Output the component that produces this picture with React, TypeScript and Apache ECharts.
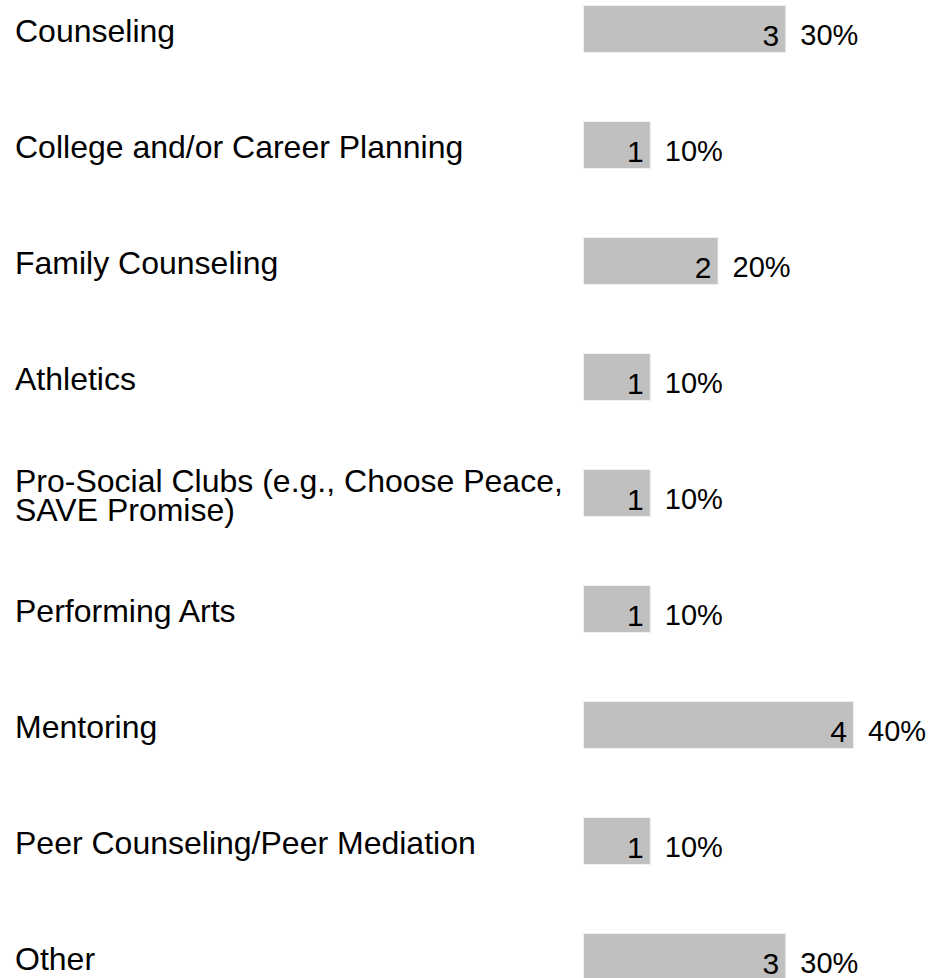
import React, { useEffect, useRef } from "react";
import * as echarts from "echarts";

const categories = [
  "Counseling",
  "College and/or Career Planning",
  "Family Counseling",
  "Athletics",
  "Pro-Social Clubs (e.g., Choose Peace,\nSAVE Promise)",
  "Performing Arts",
  "Mentoring",
  "Peer Counseling/Peer Mediation",
  "Other",
];
const counts = [3, 1, 2, 1, 1, 1, 4, 1, 3];
const percents = ["30%", "10%", "20%", "10%", "10%", "10%", "40%", "10%", "30%"];

const FONT = "'Liberation Sans', Arial, Helvetica, sans-serif";

export default function App() {
  const ref = useRef<HTMLDivElement>(null);
  useEffect(() => {
    if (!ref.current) return;
    const chart = echarts.init(ref.current, undefined, { renderer: "svg" });
    chart.setOption({
      animation: false,
      backgroundColor: "#ffffff",
      grid: { left: 583, top: 0, width: 271, height: 1044, containLabel: false },
      xAxis: {
        type: "value",
        min: 0,
        max: 4,
        show: false,
      },
      yAxis: {
        type: "category",
        data: categories,
        inverse: true,
        axisLine: { show: false },
        axisTick: { show: false },
        splitLine: { show: false },
        axisLabel: { show: false },
      },
      series: [
        {
          name: "categoryLabels",
          type: "bar",
          data: counts,
          barWidth: 48,
          silent: true,
          itemStyle: { color: "transparent" },
          label: {
            show: true,
            position: [-568, 26],
            align: "left",
            verticalAlign: "middle",
            formatter: (p: any) => categories[p.dataIndex],
            color: "#000000",
            fontFamily: FONT,
            fontSize: 32,
            lineHeight: 29,
          },
        },
        {
          name: "count",
          type: "bar",
          data: counts,
          barWidth: 48,
          barGap: "-100%",
          itemStyle: { color: "#c0c0c0", borderColor: "#efefef", borderWidth: 1 },
          label: {
            show: true,
            position: "insideRight",
            distance: 7,
            offset: [0, 6],
            formatter: "{c}",
            color: "#000000",
            fontFamily: FONT,
            fontSize: 30,
            lineHeight: 22,
          },
        },
        {
          name: "percent",
          type: "bar",
          data: counts,
          barWidth: 48,
          barGap: "-100%",
          itemStyle: { color: "transparent" },
          label: {
            show: true,
            position: "right",
            distance: 14,
            offset: [0, 6],
            formatter: (p: any) => percents[p.dataIndex],
            color: "#000000",
            fontFamily: FONT,
            fontSize: 29,
            lineHeight: 22,
          },
        },
      ],
    });
    return () => chart.dispose();
  }, []);
  return (
    <div
      ref={ref}
      style={{ position: "fixed", left: 0, top: -29, width: 934, height: 1044, background: "#fff" }}
    />
  );
}
